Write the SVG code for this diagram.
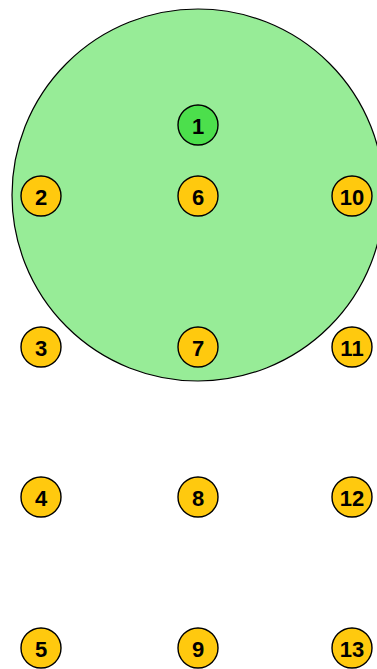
<svg xmlns="http://www.w3.org/2000/svg" width="377" height="669" viewBox="0 0 377 669">
<style>
.n circle{stroke:#000;stroke-width:1.4}
.y circle{fill:#FFC90E}
.g circle{fill:#4CDF4C}
.n text{font-family:"Liberation Sans",sans-serif;font-weight:bold;font-size:22px;fill:#000;text-anchor:middle;dominant-baseline:central}
</style>
<rect width="377" height="669" fill="#fff"/>
<g id="area"><circle cx="198" cy="195" r="186" fill="#97EC97" stroke="#000" stroke-width="1.2"/></g>
<g id="connectors"></g>
<g id="n1" class="n g"><circle cx="198" cy="125" r="20"/><text x="198" y="126">1</text></g>
<g id="n2" class="n y"><circle cx="41" cy="196" r="20"/><text x="41" y="197">2</text></g>
<g id="n3" class="n y"><circle cx="41" cy="347" r="20"/><text x="41" y="348">3</text></g>
<g id="n4" class="n y"><circle cx="41" cy="497" r="20"/><text x="41" y="498">4</text></g>
<g id="n5" class="n y"><circle cx="41" cy="648" r="20"/><text x="41" y="649">5</text></g>
<g id="n6" class="n y"><circle cx="198" cy="196" r="20"/><text x="198" y="197">6</text></g>
<g id="n7" class="n y"><circle cx="198" cy="347" r="20"/><text x="198" y="348">7</text></g>
<g id="n8" class="n y"><circle cx="198" cy="497" r="20"/><text x="198" y="498">8</text></g>
<g id="n9" class="n y"><circle cx="198" cy="648" r="20"/><text x="198" y="649">9</text></g>
<g id="n10" class="n y"><circle cx="352" cy="196" r="20"/><text x="352" y="197">10</text></g>
<g id="n11" class="n y"><circle cx="352" cy="347" r="20"/><text x="352" y="348">11</text></g>
<g id="n12" class="n y"><circle cx="352" cy="497" r="20"/><text x="352" y="498">12</text></g>
<g id="n13" class="n y"><circle cx="352" cy="648" r="20"/><text x="352" y="649">13</text></g>
</svg>
